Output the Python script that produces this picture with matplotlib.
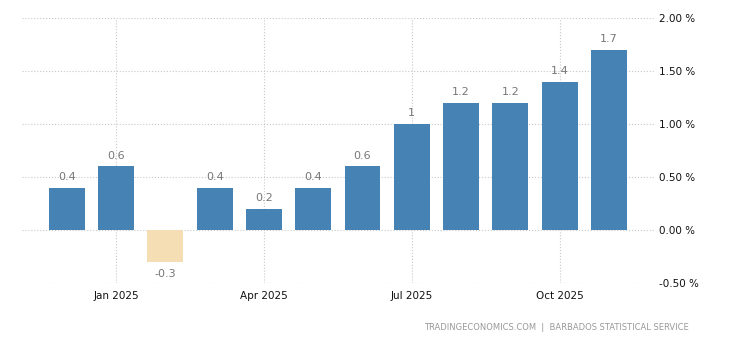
import matplotlib.pyplot as plt

meses = ['Dec 2024', 'Jan 2025', 'Feb 2025', 'Mar 2025', 'Apr 2025', 'May 2025',
         'Jun 2025', 'Jul 2025', 'Aug 2025', 'Sep 2025', 'Oct 2025', 'Nov 2025']
valores = [0.4, 0.6, -0.3, 0.4, 0.2, 0.4, 0.6, 1.0, 1.2, 1.2, 1.4, 1.7]
etiquetas = ['0.4', '0.6', '-0.3', '0.4', '0.2', '0.4', '0.6', '1', '1.2', '1.2', '1.4', '1.7']
ticks_x = [1, 4, 7, 10]
ticks_y = [-0.5, 0.0, 0.5, 1.0, 1.5, 2.0]

fig = plt.figure(figsize=(7.3, 3.4), dpi=100)
ax = fig.add_axes([0.030, 0.168, 0.867, 0.779])

x = list(range(len(valores)))
colores = ['#4682B4' if v >= 0 else '#F5DEB3' for v in valores]
ax.bar(x, valores, width=0.73, color=colores, zorder=2)

for i, v in enumerate(valores):
    if v >= 0:
        ax.annotate(etiquetas[i], (i, v), xytext=(0, 4), textcoords='offset points',
                    ha='center', va='bottom', fontsize=8, color='#777777')
    else:
        ax.annotate(etiquetas[i], (i, v), xytext=(0, -5), textcoords='offset points',
                    ha='center', va='top', fontsize=8, color='#777777')

ax.set_xlim(-0.91, 11.93)
ax.set_ylim(-0.5, 2.0)
ax.set_xticks(ticks_x)
ax.set_xticklabels([meses[i] for i in ticks_x])
ax.set_yticks(ticks_y)
ax.set_yticklabels(['%.2f %%' % t for t in ticks_y])
ax.yaxis.tick_right()
ax.tick_params(axis='both', length=0, labelsize=7.5, colors='#111111')
ax.tick_params(axis='y', pad=3)
ax.tick_params(axis='x', pad=6)

ax.grid(True, color='#c8c8c8', linestyle=':', linewidth=0.8, zorder=0)
for s in ax.spines.values():
    s.set_visible(False)

fig.text(0.943, 0.038, 'TRADINGECONOMICS.COM  |  BARBADOS STATISTICAL SERVICE',
         ha='right', va='center', fontsize=6, color='#999999')

plt.savefig('out.png', dpi=100)
